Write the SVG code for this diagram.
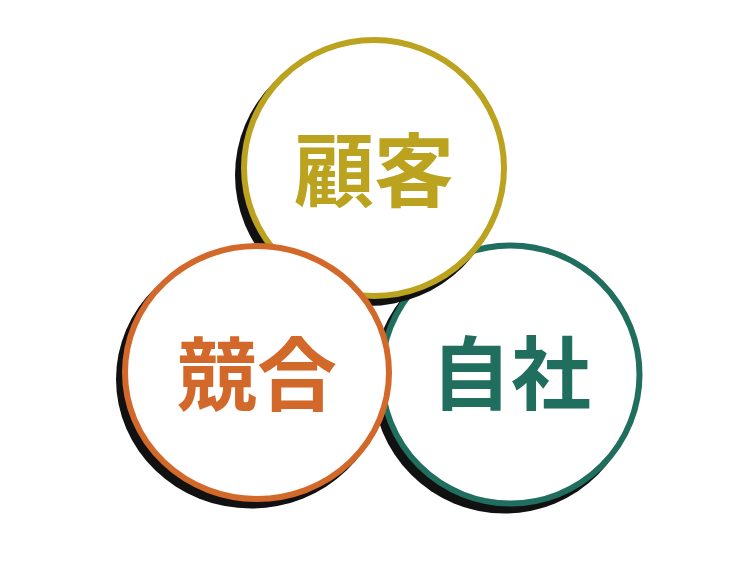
<svg xmlns="http://www.w3.org/2000/svg" width="750" height="561" viewBox="0 0 750 561">
<style>
.bg{fill:#ffffff}
.shadow{fill:#111111}
.disc{fill:#ffffff;stroke-width:6}
.lbl{font-family:"Noto Sans CJK JP","Noto Sans CJK SC",sans-serif;font-weight:700;font-size:80px;text-anchor:middle}
</style>
<rect class="bg" x="0" y="0" width="750" height="561"/>
<g id="node-jisha">
<ellipse class="shadow" cx="504.5" cy="381.5" rx="132" ry="132"/>
<ellipse class="disc" cx="510.5" cy="374.5" rx="129" ry="129" stroke="#1f6e5e"/>
<text class="lbl" x="511" y="403" fill="#1f6e5e">自社</text>
</g>
<g id="node-kokyaku">
<ellipse class="shadow" cx="368" cy="175" rx="133" ry="131"/>
<ellipse class="disc" cx="374" cy="168" rx="130" ry="128" stroke="#bba31f"/>
<text class="lbl" x="374" y="200" fill="#bba31f">顧客</text>
</g>
<g id="node-kyougou">
<ellipse class="shadow" cx="251" cy="379" rx="135" ry="129.5"/>
<ellipse class="disc" cx="257" cy="372.5" rx="132" ry="126.5" stroke="#d2692a"/>
<text class="lbl" x="257" y="404" fill="#d2692a">競合</text>
</g>
<g id="connectors"></g>
</svg>
